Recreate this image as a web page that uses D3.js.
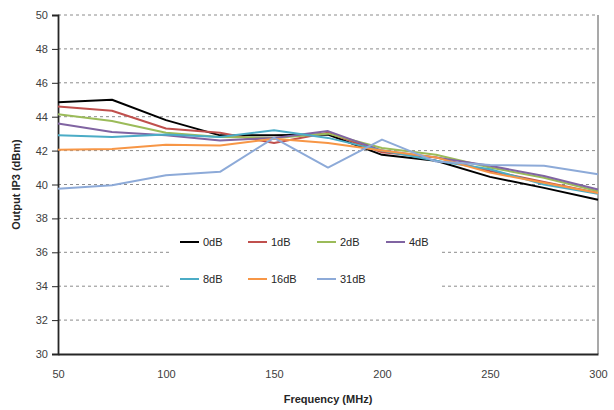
<!DOCTYPE html>
<html><head><meta charset="utf-8">
<script src="https://cdn.jsdelivr.net/npm/d3@7"></script>
<style>body{margin:0;background:#fff}svg{display:block}text{font-family:"Liberation Sans",Arial,sans-serif}</style>
</head><body><svg id="c" width="614" height="410"></svg>
<script>
const freqs = [50, 75, 100, 125, 150, 175, 200, 225, 250, 275, 300];
const seriesNames = ["0dB", "1dB", "2dB", "4dB", "8dB", "16dB", "31dB"];
const s0dB  = [44.85, 45.0, 43.8, 42.9, 42.9, 42.95, 41.75, 41.4, 40.45, 39.8, 39.1];
const s1dB  = [44.6, 44.35, 43.3, 43.05, 42.45, 43.05, 41.9, 41.6, 40.8, 40.15, 39.5];
const s2dB  = [44.15, 43.75, 43.05, 42.8, 42.75, 43.0, 42.15, 41.75, 41.0, 40.4, 39.6];
const s4dB  = [43.6, 43.1, 42.9, 42.6, 42.75, 43.15, 42.0, 41.6, 41.1, 40.5, 39.7];
const s8dB  = [42.9, 42.8, 42.95, 42.8, 43.2, 42.75, 42.0, 41.4, 40.9, 40.0, 39.45];
const s16dB = [42.05, 42.1, 42.35, 42.3, 42.7, 42.45, 42.0, 41.6, 40.7, 40.1, 39.5];
const s31dB = [39.75, 39.95, 40.55, 40.75, 42.75, 41.0, 42.65, 41.35, 41.15, 41.1, 40.6];
const seriesValues = [s0dB, s1dB, s2dB, s4dB, s8dB, s16dB, s31dB];
const xTicks = [50, 100, 150, 200, 250, 300];
const yTicks = [30, 32, 34, 36, 38, 40, 42, 44, 46, 48, 50];
const colors = ["#000000", "#C0504D", "#9BBB59", "#8064A2", "#4BACC6", "#F79646", "#8DAAD8"];

const svg = d3.select("#c");
const L = 58, R = 598, T = 15, B = 354;
const x = d3.scaleLinear().domain([50, 300]).range([L, R]);
const y = d3.scaleLinear().domain([30, 50]).range([B, T]);

// gridlines
svg.append("g").selectAll("line").data(yTicks.filter(v => v > 30)).join("line")
  .attr("x1", L).attr("x2", R).attr("y1", d => y(d)).attr("y2", d => y(d))
  .attr("stroke", "#8c8c8c").attr("stroke-width", 1).attr("stroke-dasharray", "3,3");

// right border
svg.append("line").attr("x1", R).attr("x2", R).attr("y1", T).attr("y2", B)
  .attr("stroke", "#8c8c8c").attr("stroke-width", 1.5);

// y axis
const ya = svg.append("g").attr("transform", `translate(${L},0)`)
  .call(d3.axisLeft(y).tickValues(yTicks).tickSize(6).tickPadding(4).tickFormat(d3.format("d")));
ya.select(".domain").attr("stroke", "#262626").attr("stroke-width", 1.8);
ya.selectAll(".tick line").attr("stroke", "#262626");
ya.selectAll("text").attr("font-size", 11).attr("fill", "#404040");

// x axis
const xa = svg.append("g").attr("transform", `translate(0,${B})`)
  .call(d3.axisBottom(x).tickValues(xTicks).tickSize(0).tickPadding(16).tickFormat(d3.format("d")));
xa.select(".domain").attr("stroke", "#262626").attr("stroke-width", 1.8);
xa.selectAll("text").attr("font-size", 11).attr("fill", "#404040");

// lines
const line = d3.line().x((d, i) => x(freqs[i])).y(d => y(d));
svg.append("g").selectAll("path").data(seriesValues).join("path")
  .attr("d", line).attr("fill", "none")
  .attr("stroke", (d, i) => colors[i]).attr("stroke-width", 2)
  .attr("stroke-linejoin", "round");

// legend
const lg = svg.append("g");
lg.append("rect").attr("x", 170).attr("y", 226).attr("width", 270).attr("height", 68).attr("fill", "#fff");
const legPos = [[180, 242], [248, 242], [317, 242], [386, 242], [180, 279], [248, 279], [317, 279]];
seriesNames.forEach((n, i) => {
  const [lx, ly] = legPos[i];
  lg.append("line").attr("x1", lx).attr("x2", lx + 19).attr("y1", ly).attr("y2", ly)
    .attr("stroke", colors[i]).attr("stroke-width", 2);
  lg.append("text").attr("x", lx + 23).attr("y", ly + 4).attr("font-size", 11)
    .attr("fill", "#262626").text(n);
});

// axis titles
svg.append("text").attr("x", (L + R) / 2).attr("y", 403).attr("text-anchor", "middle")
  .attr("font-size", 11).attr("font-weight", "bold").attr("fill", "#262626").text("Frequency (MHz)");
svg.append("text").attr("transform", `translate(20,${(T + B) / 2}) rotate(-90)`)
  .attr("text-anchor", "middle").attr("font-size", 11).attr("font-weight", "bold")
  .attr("fill", "#262626").text("Output IP3 (dBm)");
</script></body></html>
